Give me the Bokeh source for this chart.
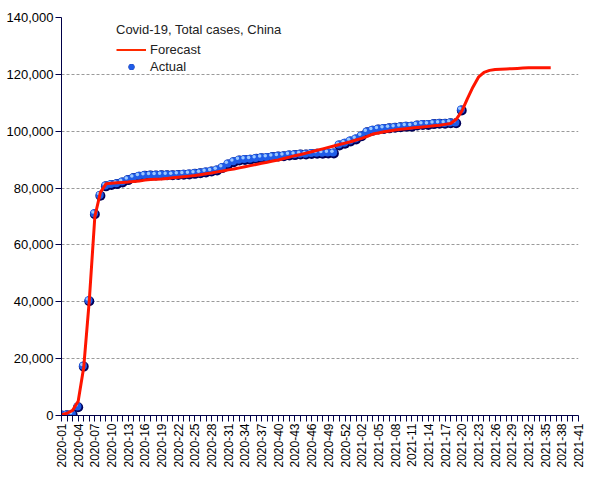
from math import pi
from bokeh.plotting import figure
from bokeh.models import (ColumnDataSource, FixedTicker, NumeralTickFormatter, Legend, LegendItem, Range1d)
from bokeh.transform import dodge
from bokeh.embed import file_html
from bokeh.resources import INLINE

# Week categories: 2020-01 .. 2020-53, 2021-01 .. 2021-41
weeks = ([f"2020-{w:02d}" for w in range(1, 54)] + [f"2021-{w:02d}" for w in range(1, 42)])
tick_labels = ["2020-01", "2020-04", "2020-07", "2020-10", "2020-13", "2020-16", "2020-19",
               "2020-22", "2020-25", "2020-28", "2020-31", "2020-34", "2020-37", "2020-40",
               "2020-43", "2020-46", "2020-49", "2020-52", "2021-02", "2021-05", "2021-08",
               "2021-11", "2021-14", "2021-17", "2021-20", "2021-23", "2021-26", "2021-29",
               "2021-32", "2021-35", "2021-38", "2021-41"]

actual = [40, 45, 250, 2900, 17200, 40200, 70800, 77300, 80600, 81100,
          81400, 82000, 82800, 83500, 84000, 84300, 84400, 84400, 84500, 84500,
          84500, 84600, 84700, 84800, 85000, 85200, 85500, 85800, 86200, 87100,
          88300, 89100, 89700, 89900, 90000, 90300, 90500, 90600, 90900, 91100,
          91200, 91500, 91600, 91800, 91800, 92000, 92100, 92100, 92200, 92200,
          95000, 95600, 96400, 97100, 98200, 99600, 100200, 100600, 100800, 101000,
          101200, 101400, 101600, 101600, 102000, 102200, 102200, 102500, 102600, 102600,
          102800, 102800, 107300]

forecast = [300, 800, 1800, 5000, 17000, 40500, 70000, 78500, 81500, 81700,
            81900, 82000, 82100, 82300, 82500, 82800, 83000, 83100, 83200, 83400,
            83600, 83800, 84000, 84200, 84400, 84700, 85000, 85300, 85700, 86000,
            86400, 86700, 87100, 87500, 87900, 88300, 88700, 89100, 89500, 89900,
            90400, 90900, 91400, 91800, 92300, 92800, 93300, 93800, 94300, 94800,
            95300, 95800, 96300, 96900, 97500, 98200, 99000, 99400, 99800, 100100,
            100400, 100700, 100900, 101100, 101300, 101500, 101700, 101900, 102100, 102400,
            102700, 104200, 107000, 111400, 115500, 119000, 120700, 121400, 121700, 121800,
            121900, 122000, 122100, 122200, 122300, 122300, 122300, 122300, 122300]

y_ticks = [0, 20000, 40000, 60000, 80000, 100000, 120000, 140000]

FONT = "Liberation Sans"
AXIS_COL = "#000048"

act_src = ColumnDataSource(dict(x=list(range(len(actual))), y=actual))
fc_src = ColumnDataSource(dict(x=list(range(len(forecast))), y=forecast))

p = figure(frame_width=517, frame_height=398,
           output_backend="svg", toolbar_location=None,
           x_range=Range1d(0, len(weeks) - 1), y_range=Range1d(0, 140000),
           min_border_left=61, min_border_right=20, min_border_top=17, min_border_bottom=60)
p.outline_line_color = None
p.background_fill_color = "white"
p.border_fill_color = "white"

# grid
p.xgrid.visible = False
p.ygrid.grid_line_color = "#9a9a9a"
p.ygrid.grid_line_dash = "3 2"
p.ygrid.grid_line_width = 1

# axes
p.yaxis.ticker = FixedTicker(ticks=y_ticks)
p.yaxis.formatter = NumeralTickFormatter(format="0,0")
p.xaxis.ticker = FixedTicker(ticks=list(range(len(weeks))))
p.xaxis.major_label_overrides = {i: (w if w in tick_labels else "") for i, w in enumerate(weeks)}
p.xaxis.major_label_orientation = pi / 2
for ax in (p.xaxis, p.yaxis):
    ax.axis_line_color = AXIS_COL
    ax.major_tick_line_color = AXIS_COL
    ax.minor_tick_line_color = None
    ax.major_tick_in = 0
    ax.major_tick_out = 6
    ax.major_label_text_font = FONT
    ax.major_label_text_color = "black"
    ax.major_label_standoff = 2
p.yaxis.major_label_text_font_size = "13px"
p.xaxis.major_label_text_font_size = "12px"

# actual points: sphere-like markers
r1 = p.scatter("x", "y", source=act_src, size=10, fill_color="#00005a", line_color=None)
r2 = p.scatter(dodge("x", -0.13), dodge("y", 300), source=act_src, size=8,
               fill_color="#1f5ce8", line_color=None)
r3 = p.scatter(dodge("x", -0.35), dodge("y", 750), source=act_src, size=3.5,
               fill_color="#9cc8ff", line_color=None)

# forecast line
rl = p.line("x", "y", source=fc_src, line_color="#ff1500", line_width=3)
rleg = p.line(x=[float("nan")], y=[float("nan")], line_color="#ff2a00", line_width=2)

legend = Legend(items=[LegendItem(label="Forecast", renderers=[rleg]),
                       LegendItem(label="Actual", renderers=[r1, r2])],
                title="Covid-19, Total cases, China",
                location=(55, 341), orientation="vertical",
                background_fill_alpha=0, border_line_color=None,
                padding=4, margin=0, spacing=2, glyph_width=30, glyph_height=15,
                label_height=15, label_standoff=4, title_standoff=5,
                label_text_font=FONT, label_text_font_size="13px", label_text_color="#222222",
                title_text_font=FONT, title_text_font_size="13px", title_text_color="#222222",
                title_text_font_style="normal")
p.add_layout(legend, "center")

open("out.html", "w").write(file_html(p, INLINE))
